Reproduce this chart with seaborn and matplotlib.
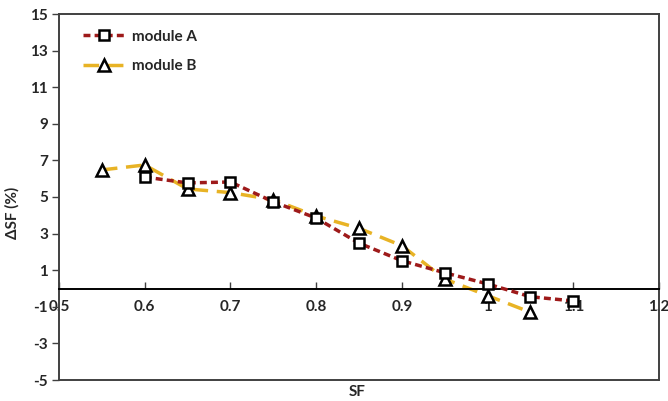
import matplotlib
matplotlib.use("Agg")
import matplotlib.pyplot as plt
import seaborn as sns
import pandas as pd

sf_a = [0.6, 0.65, 0.7, 0.75, 0.8, 0.85, 0.9, 0.95, 1.0, 1.05, 1.1]
dsf_a = [6.09, 5.77, 5.82, 4.74, 3.85, 2.48, 1.52, 0.86, 0.25, -0.45, -0.68]
sf_b = [0.55, 0.6, 0.65, 0.7, 0.75, 0.8, 0.85, 0.9, 0.95, 1.0, 1.05]
dsf_b = [6.48, 6.75, 5.44, 5.24, 4.85, 3.96, 3.29, 2.34, 0.52, -0.39, -1.30]
x_ticks = [0.5, 0.6, 0.7, 0.8, 0.9, 1.0, 1.1, 1.2]
x_tick_labels = ["0.5", "0.6", "0.7", "0.8", "0.9", "1", "1.1", "1.2"]
y_ticks = [-5, -3, -1, 1, 3, 5, 7, 9, 11, 13, 15]

sns.set_theme(style="white")
plt.rcParams["font.family"] = ["Lato", "DejaVu Sans"]
plt.rcParams["font.weight"] = "bold"
plt.rcParams["axes.unicode_minus"] = False

fig = plt.figure(figsize=(6.68, 4.01), dpi=100)
ax = fig.add_axes([59/668, 21/401, 600/668, 366/401])

df_a = pd.DataFrame({"SF": sf_a, "dSF": dsf_a})
df_b = pd.DataFrame({"SF": sf_b, "dSF": dsf_b})

sns.lineplot(data=df_a, x="SF", y="dSF", ax=ax, color="#9E1A1A", lw=2.5,
             linestyle=(0, (2.0, 1.2)), marker="s", markersize=7.5,
             markerfacecolor="white", markeredgecolor="black", markeredgewidth=1.8,
             label="module A", zorder=3)
sns.lineplot(data=df_b, x="SF", y="dSF", ax=ax, color="#E8B325", lw=2.5,
             linestyle=(0, (4.5, 2.5)), marker="^", markersize=9,
             markerfacecolor="white", markeredgecolor="black", markeredgewidth=1.8,
             label="module B", zorder=2)

ax.set_xlim(0.5, 1.2)
ax.set_ylim(-5, 15)
ax.set_xticks(x_ticks)
ax.set_xticklabels(x_tick_labels)
ax.set_yticks(y_ticks)

for s in ["left", "top", "right"]:
    ax.spines[s].set_color("#404040")
    ax.spines[s].set_linewidth(1.4)
ax.spines["bottom"].set_position(("data", 0))
ax.spines["bottom"].set_color("black")
ax.spines["bottom"].set_linewidth(1.4)
ax.plot([0, 1], [0, 0], transform=ax.transAxes, color="#404040", lw=1.4, clip_on=False)

ax.tick_params(axis="x", direction="in", length=5, width=1, color="#404040",
               labelsize=11, pad=8, bottom=True)
ax.tick_params(axis="y", direction="out", length=5, width=1, color="#404040",
               labelsize=11, pad=3, left=True)
for lab in ax.get_xticklabels() + ax.get_yticklabels():
    lab.set_fontweight("bold")

ax.set_xlabel("")
ax.set_ylabel("")
fig.text(357/668, 1 - 392/401, "SF", ha="center", va="center", fontsize=11, fontweight="bold")
fig.text(12/668, 1 - 213/401, "ΔSF (%)", ha="center", va="center", rotation=90,
         fontsize=11, fontweight="bold")

leg = ax.legend(loc="upper left", bbox_to_anchor=(0.017, 0.995), frameon=False,
                handlelength=2.7, handletextpad=0.5, labelspacing=1.0, fontsize=11)
for t in leg.get_texts():
    t.set_fontweight("bold")

fig.savefig("out.png", dpi=100)
